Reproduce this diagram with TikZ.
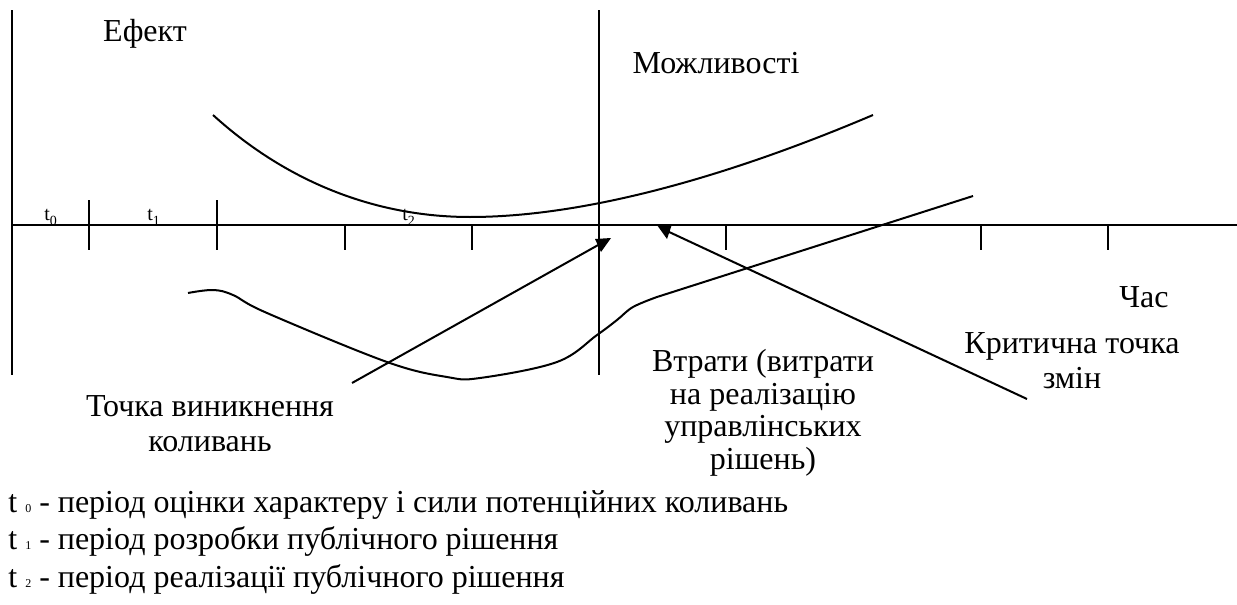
\documentclass[tikz,border=0pt]{standalone}
\usepackage{fontspec}
\setmainfont{Liberation Serif}
\begin{document}
\begin{tikzpicture}[x=0.5pt,y=-0.5pt,
  axis/.style={line width=1pt},
  curve/.style={line width=1pt},
  conn/.style={line width=1pt},
  head/.style={fill=black},
  lab/.style={font=\fontsize{16}{16.25}\selectfont, align=center, inner sep=0pt},
  tlab/.style={font=\fontsize{10}{10}\selectfont, inner sep=0pt, anchor=base west},
  leg/.style={font=\fontsize{16}{18}\selectfont, anchor=base west, inner sep=0pt}]
\useasboundingbox (0,0) rectangle (1237,605);
% axes
\coordinate (L0) at (12,10); \coordinate (L1) at (12,375);
\coordinate (C0) at (599,10); \coordinate (C1) at (599,375);
\coordinate (H0) at (12,225); \coordinate (H1) at (1237,225);
\draw[axis] (L0) -- (L1);
\draw[axis] (C0) -- (C1);
\draw[axis] (H0) -- (H1);
% ticks
\foreach \x in {89,217} \draw[axis] (\x,200) -- (\x,250);
\foreach \x in {345,472,726,981,1108} \draw[axis] (\x,225) -- (\x,250);
% period labels
\node[tlab] (t0) at (44,220) {t\raisebox{-0.25em}{\fontsize{7}{7}\selectfont 0}};
\node[tlab] (t1) at (147,220) {t\raisebox{-0.25em}{\fontsize{7}{7}\selectfont 1}};
\node[tlab] (t2) at (402,220) {t\raisebox{-0.25em}{\fontsize{7}{7}\selectfont 2}};
% upper curve
\draw[curve] (213,115) .. controls (290,185) and (380,217) .. (470,217)
             .. controls (580,217) and (720,180) .. (873,115);
% lower curve
\draw[curve] plot[smooth, tension=0.6] coordinates {(188,293) (213,290) (233,295) (267,313) (387,362) (447,377) (480,378) (557,362) (597,335) (617,320) (633,307) (657,297)} -- (973,196);
% labels
\node[lab, anchor=base] (ef) at (145,41) {Ефект};
\node[lab, anchor=base] (mo) at (716,73) {Можливості};
\node[lab, anchor=base] (chas) at (1144,307) {Час};
\node[lab, font=\fontsize{16}{17.5}\selectfont] (kr) at (1072,361) {Критична точка\\змін};
\node[lab] (vt) at (763,413) {Втрати (витрати\\на реалізацію\\управлінських\\рішень)};
\node[lab, font=\fontsize{16}{17.5}\selectfont] (tv) at (210,424) {Точка виникнення\\коливань};
% connectors
\coordinate (a1s) at (352,383); \coordinate (a1e) at (600,244);
\coordinate (a2s) at (1027,399); \coordinate (a2e) at (667,231);
\draw[conn] (a1s) -- (a1e);
\fill[head] (595,239) -- (611,238) -- (601,252) -- cycle;
\draw[conn] (a2s) -- (a2e);
\fill[head] (657,225) -- (672,224) -- (667,239) -- cycle;
% legend
\node[leg] (l0) at (8,512) {t {\fontsize{6}{6}\selectfont 0} - період оцінки характеру і сили потенційних коливань};
\node[leg] (l1) at (8,549.5) {t {\fontsize{6}{6}\selectfont 1} - період розробки публічного рішення};
\node[leg] (l2) at (8,587) {t {\fontsize{6}{6}\selectfont 2} - період реалізації публічного рішення};
\end{tikzpicture}
\end{document}
